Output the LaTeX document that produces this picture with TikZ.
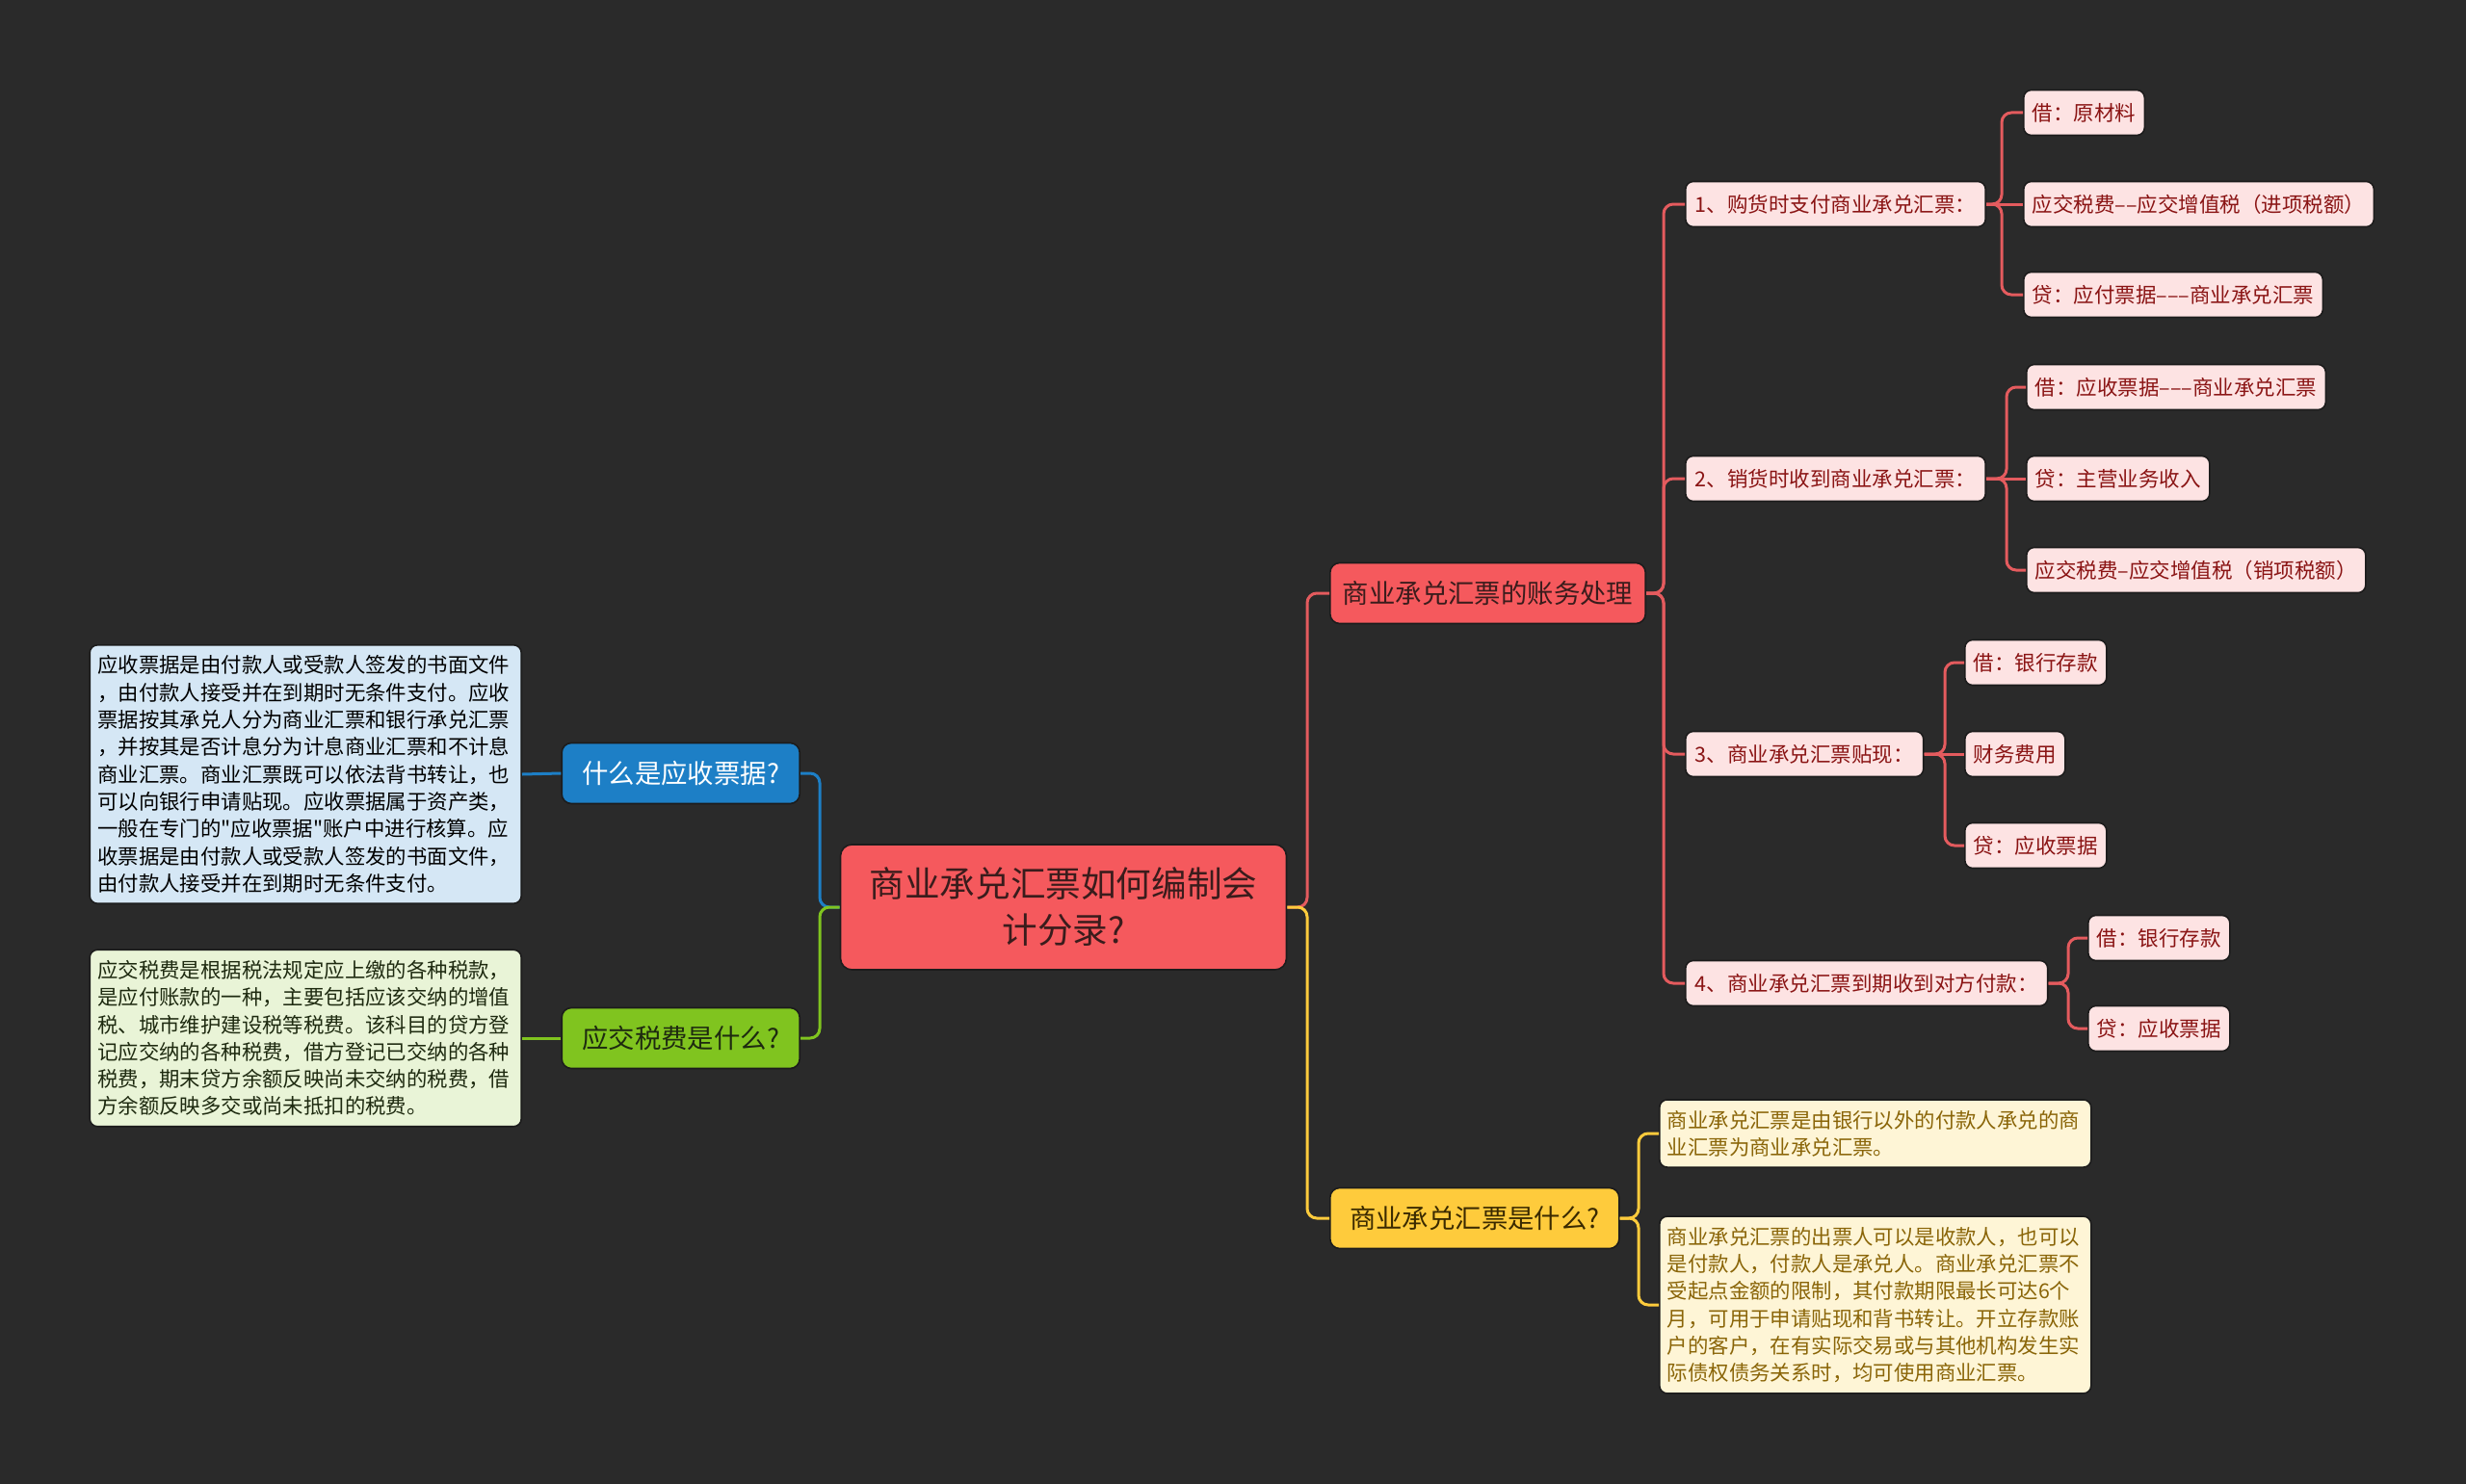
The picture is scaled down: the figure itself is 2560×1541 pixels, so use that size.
\documentclass[tikz,border=0pt]{standalone}
\usepackage{fontspec}
\usepackage{xcolor}
\usepackage{tikz}
\usetikzlibrary{positioning,calc}
\newfontfamily\cjk{Noto Sans CJK SC}
\definecolor{Canvas}{HTML}{2A2A2A}
\definecolor{Edge}{HTML}{1C1C1C}
\definecolor{RootRed}{HTML}{F5595D}
\definecolor{RootInk}{HTML}{3A1C1C}
\definecolor{EntryPink}{HTML}{FDE3E3}
\definecolor{EntryInk}{HTML}{8A1414}
\definecolor{RedLine}{HTML}{E45B5E}
\definecolor{BillBlue}{HTML}{1D7FC6}
\definecolor{BillLight}{HTML}{D5E7F5}
\definecolor{TaxGreen}{HTML}{80C41F}
\definecolor{TaxLight}{HTML}{E9F4D7}
\definecolor{TaxInk}{HTML}{1E2A10}
\definecolor{WhatGold}{HTML}{FECB3C}
\definecolor{WhatLight}{HTML}{FEF5D6}
\definecolor{WhatInk}{HTML}{8A6508}
\definecolor{WhatDark}{HTML}{3A2A00}

\begin{document}
\begin{tikzpicture}[
	x=0.5pt, y=-0.5pt,
	topic/.style={fill=RootRed, text=RootInk, draw=Edge, line width=0.8pt, rounded corners=6pt, align=center,
		minimum width=231.5pt, minimum height=65pt, inner sep=0pt, font=\cjk\fontsize{18.3}{24}\selectfont},
	branch/.style={draw=Edge, line width=0.8pt, rounded corners=5pt, minimum height=31.5pt,
		inner xsep=6.5pt, inner ysep=0pt, font=\cjk\fontsize{13.7}{16}\selectfont},
	entry/.style={fill=EntryPink, text=EntryInk, draw=Edge, line width=0.8pt, rounded corners=4pt, anchor=west,
		minimum height=23.5pt, inner xsep=4.5pt, inner ysep=0pt, font=\cjk\fontsize{10.75}{13}\selectfont},
	note/.style={draw=Edge, line width=0.8pt, rounded corners=4pt, align=left, text width=216pt,
		inner xsep=4pt, inner ysep=5.5pt, font=\cjk\fontsize{10.7}{14.15}\selectfont},
	link/.style={line width=1.5pt, rounded corners=5pt}
]
\fill[Canvas] (0,0) rectangle (2560,1541);

% centre
\node[topic] (root) at (1104,942) {商业承兑汇票如何编制会\\计分录?};

% left side
\node[branch, fill=BillBlue, text=white, minimum width=123.5pt, anchor=east] (bill) at (831,803) {什么是应收票据?};
\node[branch, fill=TaxGreen, text=TaxInk, minimum width=123.5pt, anchor=east] (tax) at (831,1078) {应交税费是什么?};
\node[note, fill=BillLight, text=black, anchor=east] (billnote) at (542,804) {应收票据是由付款人或受款人签发的书面文件\\，由付款人接受并在到期时无条件支付。应收\\票据按其承兑人分为商业汇票和银行承兑汇票\\，并按其是否计息分为计息商业汇票和不计息\\商业汇票。商业汇票既可以依法背书转让，也\\可以向银行申请贴现。应收票据属于资产类，\\一般在专门的"应收票据"账户中进行核算。应\\收票据是由付款人或受款人签发的书面文件，\\由付款人接受并在到期时无条件支付。};
\node[note, fill=TaxLight, text=TaxInk, anchor=east] (taxnote) at (542,1078) {应交税费是根据税法规定应上缴的各种税款，\\是应付账款的一种，主要包括应该交纳的增值\\税、城市维护建设税等税费。该科目的贷方登\\记应交纳的各种税费，借方登记已交纳的各种\\税费，期末贷方余额反映尚未交纳的税费，借\\方余额反映多交或尚未抵扣的税费。};

% right side
\node[branch, fill=RootRed, text=RootInk, anchor=west] (acct) at (1380,616) {商业承兑汇票的账务处理};
\node[branch, fill=WhatGold, text=WhatDark, minimum width=150pt, anchor=west] (what) at (1380,1265) {商业承兑汇票是什么?};

\node[entry, inner xsep=5pt] (buy) at (1749,212) {1、购货时支付商业承兑汇票：};
\node[entry, inner xsep=5pt] (sell) at (1749,497) {2、销货时收到商业承兑汇票：};
\node[entry, inner xsep=5pt] (disc) at (1749,783) {3、商业承兑汇票贴现：};
\node[entry, inner xsep=5pt] (due) at (1749,1021) {4、商业承兑汇票到期收到对方付款：};

\node[entry] (buy1) at (2100,117) {借：原材料};
\node[entry] (buy2) at (2100,212) {应交税费––应交增值税（进项税额）};
\node[entry] (buy3) at (2100,306) {贷：应付票据–––商业承兑汇票};
\node[entry] (sell1) at (2103,402) {借：应收票据–––商业承兑汇票};
\node[entry] (sell2) at (2103,497) {贷：主营业务收入};
\node[entry] (sell3) at (2103,592) {应交税费–应交增值税（销项税额）};
\node[entry] (disc1) at (2039,688) {借：银行存款};
\node[entry] (disc2) at (2039,783) {财务费用};
\node[entry] (disc3) at (2039,878) {贷：应收票据};
\node[entry] (due1) at (2167,974) {借：银行存款};
\node[entry] (due2) at (2167,1068) {贷：应收票据};

\node[note, fill=WhatLight, text=WhatInk, anchor=west] (what1) at (1722,1177) {商业承兑汇票是由银行以外的付款人承兑的商\\业汇票为商业承兑汇票。};
\node[note, fill=WhatLight, text=WhatInk, anchor=west] (what2) at (1722,1355) {商业承兑汇票的出票人可以是收款人，也可以\\是付款人，付款人是承兑人。商业承兑汇票不\\受起点金额的限制，其付款期限最长可达6个\\月，可用于申请贴现和背书转让。开立存款账\\户的客户，在有实际交易或与其他机构发生实\\际债权债务关系时，均可使用商业汇票。};

% joints
\coordinate (rootR) at (1357,942);
\coordinate (rootL) at (851,942);
\coordinate (acctJ) at (1727,616);
\coordinate (buyJ) at (2078,212);
\coordinate (sellJ) at (2083,497);
\coordinate (discJ) at (2019,783);
\coordinate (dueJ) at (2147,1021);
\coordinate (whatJ) at (1701,1265);

% connectors
\draw[link, BillBlue] (root.west) -- (rootL) |- (bill.east);
\draw[link, TaxGreen] (root.west) -- (rootL) |- (tax.east);
\draw[link, BillBlue] (bill.west) -- (billnote.east);
\draw[link, TaxGreen] (tax.west) -- (taxnote.east);
\draw[link, RedLine] (root.east) -- (rootR) |- (acct.west);
\draw[link, WhatGold] (root.east) -- (rootR) |- (what.west);

\draw[link, RedLine] (acct.east) -- (acctJ) |- (buy.west);
\draw[link, RedLine] (acct.east) -- (acctJ) |- (sell.west);
\draw[link, RedLine] (acct.east) -- (acctJ) |- (disc.west);
\draw[link, RedLine] (acct.east) -- (acctJ) |- (due.west);

\draw[link, RedLine] (buy.east) -- (buyJ) |- (buy1.west);
\draw[link, RedLine] (buy.east) -- (buy2.west);
\draw[link, RedLine] (buy.east) -- (buyJ) |- (buy3.west);
\draw[link, RedLine] (sell.east) -- (sellJ) |- (sell1.west);
\draw[link, RedLine] (sell.east) -- (sell2.west);
\draw[link, RedLine] (sell.east) -- (sellJ) |- (sell3.west);
\draw[link, RedLine] (disc.east) -- (discJ) |- (disc1.west);
\draw[link, RedLine] (disc.east) -- (disc2.west);
\draw[link, RedLine] (disc.east) -- (discJ) |- (disc3.west);
\draw[link, RedLine] (due.east) -- (dueJ) |- (due1.west);
\draw[link, RedLine] (due.east) -- (dueJ) |- (due2.west);

\draw[link, WhatGold] (what.east) -- (whatJ) |- (what1.west);
\draw[link, WhatGold] (what.east) -- (whatJ) |- (what2.west);
\end{tikzpicture}
\end{document}
